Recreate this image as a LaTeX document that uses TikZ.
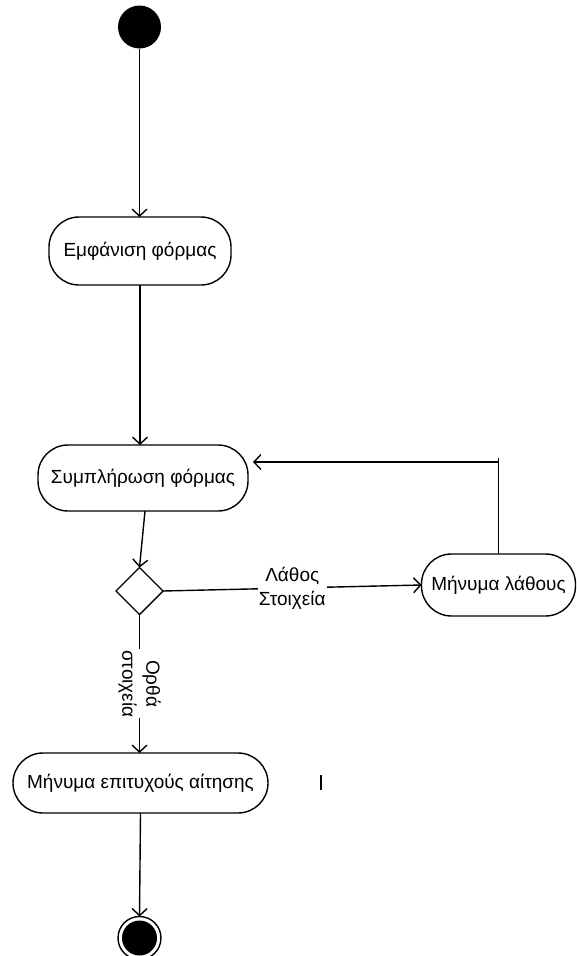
\documentclass[tikz,border=0pt]{standalone}
\usepackage{fontspec}
\setmainfont{Liberation Sans}
\usetikzlibrary{arrows.meta,shapes.geometric}
\begin{document}
\begin{tikzpicture}[x=1pt,y=-1pt,
  every node/.style={inner sep=0pt,outer sep=0pt},
  act/.style={draw,line width=1.4pt,rounded corners=30pt,align=center,font=\fontsize{19}{23}\selectfont},
  lbl/.style={fill=white,align=center,inner sep=1pt,font=\fontsize{19}{24}\selectfont},
  conn/.style={line width=1.4pt},
  arr/.style={conn,-{Straight Barb[length=7pt,width=15pt,line width=1.4pt]}}
]
\useasboundingbox (0,0) rectangle (576,956);
% start
\node[circle,fill=black,minimum size=43pt] (start) at (139.5,27) {};
% activities
\node[act,minimum width=182pt,minimum height=68pt] (show) at (140,251) {Εμφάνιση φόρμας};
\node[act,minimum width=210pt,minimum height=66pt] (fillf) at (143,478) {Συμπλήρωση φόρμας};
\node[draw,diamond,line width=1.4pt,minimum width=47pt,minimum height=47pt,aspect=1] (dec) at (139.5,591) {};
\node[act,minimum width=154pt,minimum height=62pt] (err) at (498.5,585) {Μήνυμα λάθους};
\node[act,minimum width=255pt,minimum height=60pt] (ok) at (140.5,783) {Μήνυμα επιτυχούς αίτησης};
% end
\node[circle,draw,line width=1.4pt,minimum size=43pt] (endo) at (139.5,938) {};
\node[circle,fill=black,minimum size=35pt] (endi) at (139.5,938) {};
% connectors
\draw[arr] (start.south) -- (endo.north |- show.north);
\draw[arr] (show.south) -- (show.south |- fillf.north);
\draw[arr] ([xshift=2pt]fillf.south) -- (dec.north);
\draw[arr] (dec.east) -- node[lbl] {Λάθος\\Στοιχεία} (err.west);
\coordinate (looptop) at (498.5,458);
\coordinate (loopcorner) at (498.5,462);
\draw[conn] (err.north) -- (looptop);
\draw[arr] (loopcorner) -- ([xshift=5pt]fillf.east |- loopcorner);
\draw[arr] (dec.south) -- node[lbl,rotate=-90] {Ορθά\\στοιχεία} (dec.south |- ok.north);
\draw[arr] (ok.south) -- (endo.north);
% stray mark
\coordinate (m1) at (321,775);
\coordinate (m2) at (321,790);
\draw[conn] (m1) -- (m2);
\end{tikzpicture}
\end{document}
